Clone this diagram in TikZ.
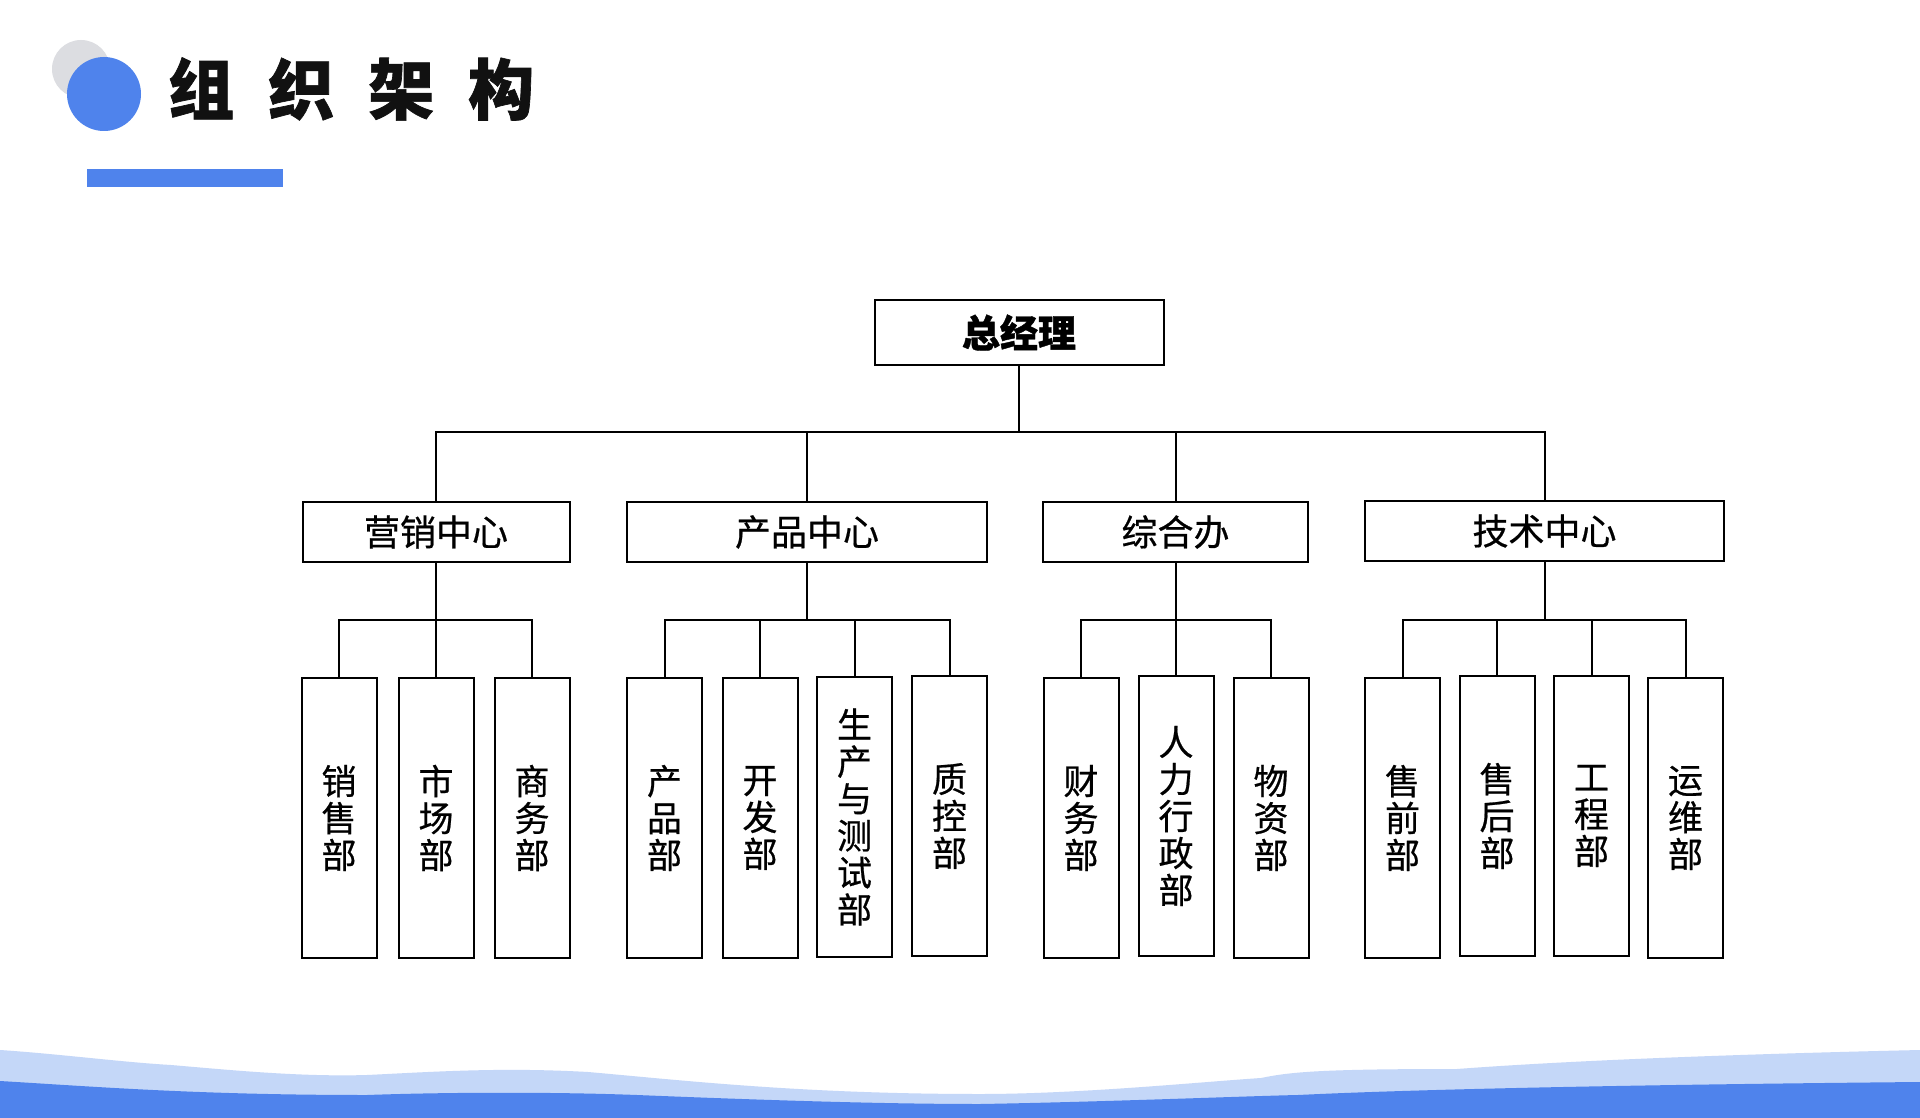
\documentclass[tikz,border=0pt]{standalone}
\usepackage{fontspec}
\newfontfamily\cjk[FakeBold=0.6]{Noto Sans CJK SC}
\newfontfamily\cjkbold[FakeBold=1]{Noto Sans CJK SC Bold}
\definecolor{mainblue}{RGB}{79,131,236}
\definecolor{lightblue}{RGB}{196,215,248}
\definecolor{greycirc}{RGB}{220,221,225}
\definecolor{titleblack}{RGB}{17,17,17}
\begin{document}
\begin{tikzpicture}[x=1pt,y=-1pt,
  boxbase/.style={draw=black, line width=2pt, fill=white, inner sep=0pt},
  topbox/.style={boxbase, minimum width=289pt, minimum height=65pt, font=\cjkbold\bfseries\fontsize{38}{40}\selectfont},
  midbox/.style={boxbase, minimum height=60pt, font=\cjk\fontsize{36}{38}\selectfont},
  leafbox/.style={boxbase, minimum width=75pt, minimum height=280pt, align=center, font=\cjk\fontsize{35}{37}\selectfont},
  link/.style={line width=2pt, line cap=rect}]
\useasboundingbox (0,0) rectangle (1920,1118);
\fill[white] (0,0) rectangle (1920,1118);
% title decoration
\fill[greycirc] (81,69) circle (29);
\fill[mainblue] (104,94) circle (37);
\node[anchor=west, inner sep=0pt, text=titleblack, font=\cjkbold\bfseries\fontsize{66}{66}\selectfont] (title) at (168,89) {组\hskip34pt 织\hskip34pt 架\hskip34pt 构};
\fill[mainblue] (87,169) rectangle (283,187);
% bottom waves
\fill[lightblue] (0,1050) .. controls (60,1054) and (120,1062) .. (171,1065)
  .. controls (230,1070) and (300,1077) .. (367,1075)
  .. controls (430,1072) and (500,1067) .. (588,1072)
  .. controls (680,1080) and (800,1094) .. (980,1094)
  .. controls (1080,1094) and (1200,1082) .. (1261,1078)
  .. controls (1290,1072) and (1320,1069) .. (1457,1069)
  .. controls (1550,1062) and (1700,1055) .. (1920,1050)
  -- (1920,1118) -- (0,1118) -- cycle;
\fill[mainblue] (0,1081) .. controls (100,1087) and (200,1095) .. (367,1095)
  .. controls (450,1092) and (560,1092) .. (637,1095)
  .. controls (760,1100) and (880,1104) .. (980,1104)
  .. controls (1100,1102) and (1250,1096) .. (1298,1095)
  .. controls (1400,1090) and (1600,1085) .. (1920,1082)
  -- (1920,1118) -- (0,1118) -- cycle;
% chart nodes
\node[topbox] (gm) at (1019,332.5) {总经理};
\node[midbox, minimum width=267pt] (c1) at (436,532) {营销中心};
\node[midbox, minimum width=360pt] (c2) at (807,532) {产品中心};
\node[midbox, minimum width=265pt] (c3) at (1175.5,532) {综合办};
\node[midbox, minimum width=359pt] (c4) at (1544.5,531) {技术中心};
% leaves
\node[leafbox] (l11) at (339,818) {销\\售\\部};
\node[leafbox] (l12) at (436,818) {市\\场\\部};
\node[leafbox] (l13) at (532,818) {商\\务\\部};
\node[leafbox] (l21) at (664.5,818) {产\\品\\部};
\node[leafbox] (l22) at (760,818) {开\\发\\部};
\node[leafbox] (l23) at (854.5,817) {生\\产\\与\\测\\试\\部};
\node[leafbox] (l24) at (949.5,816) {质\\控\\部};
\node[leafbox] (l31) at (1081,818) {财\\务\\部};
\node[leafbox] (l32) at (1176,816) {人\\力\\行\\政\\部};
\node[leafbox] (l33) at (1271,818) {物\\资\\部};
\node[leafbox] (l41) at (1402.5,818) {售\\前\\部};
\node[leafbox] (l42) at (1497,816) {售\\后\\部};
\node[leafbox] (l43) at (1591.5,816) {工\\程\\部};
\node[leafbox] (l44) at (1685.5,818) {运\\维\\部};
% connectors
\coordinate (b0) at (1019,432);
\draw[link] (gm.south) -- (b0);
\foreach \c in {c1,c2,c3,c4} \draw[link] (\c.north) |- (b0);
\coordinate (b1) at (436,620);
\draw[link] (c1.south) -- (b1);
\foreach \c in {l11,l12,l13} \draw[link] (\c.north) |- (b1);
\coordinate (b2) at (807,620);
\draw[link] (c2.south) -- (b2);
\foreach \c in {l21,l22,l23,l24} \draw[link] (\c.north) |- (b2);
\coordinate (b3) at (1175.5,620);
\draw[link] (c3.south) -- (b3);
\foreach \c in {l31,l32,l33} \draw[link] (\c.north) |- (b3);
\coordinate (b4) at (1544.5,620);
\draw[link] (c4.south) -- (b4);
\foreach \c in {l41,l42,l43,l44} \draw[link] (\c.north) |- (b4);
\end{tikzpicture}
\end{document}
